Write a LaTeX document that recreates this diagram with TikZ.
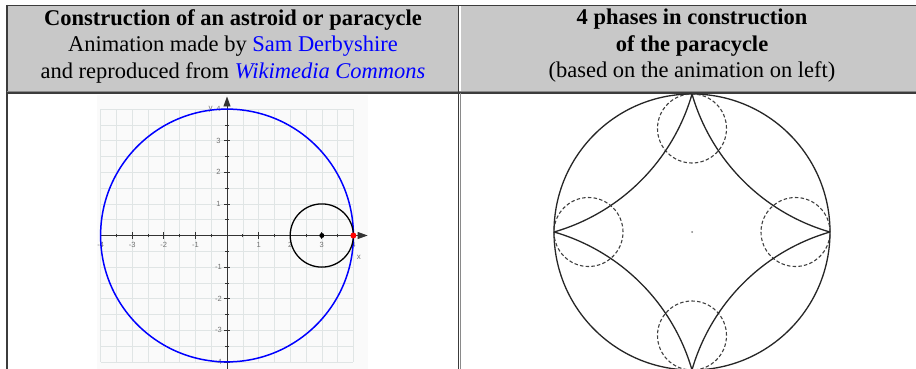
\documentclass[tikz,border=0pt]{standalone}
\usepackage{fontspec}
\setmainfont{Liberation Serif}
\setsansfont{Liberation Sans}
\usetikzlibrary{arrows.meta}

\definecolor{headgray}{HTML}{C8C8C8}
\definecolor{rulegray}{HTML}{8A8A8A}
\definecolor{ruledark}{HTML}{3C3C3C}
\definecolor{plotbg}{HTML}{FAFAFA}
\definecolor{gridgray}{HTML}{E0E5E5}
\definecolor{axisgray}{HTML}{333333}
\definecolor{linkblue}{HTML}{0000FF}

\begin{document}
\begin{tikzpicture}[x=1pt,y=1pt]
\tikzset{
  headtext/.style={align=center,font=\fontsize{22.5}{26.5}\selectfont,inner sep=0pt},
  headcell/.style={fill=headgray},
  darkrule/.style={draw=ruledark,line width=1.4pt},
  lightrule/.style={draw=rulegray,line width=1.4pt},
  gridline/.style={draw=gridgray,line width=0.6pt},
  axisline/.style={draw=axisgray,line width=0.9pt,-{Triangle[length=10pt,width=7pt]}},
  tickmark/.style={draw=axisgray,line width=0.7pt},
  ticklabel/.style={font=\sffamily\fontsize{7.5}{8}\selectfont,text=black!55,inner sep=0pt},
  axislabel/.style={font=\sffamily\fontsize{8}{9}\selectfont,text=black!55,inner sep=0pt},
  bluewheel/.style={draw=blue,line width=1.5pt},
  rollwheel/.style={draw=black,line width=1.3pt},
  bigwheel/.style={draw=black!85,line width=1.3pt},
  smallwheel/.style={draw=black!75,line width=1.1pt,dash pattern=on 3.5pt off 2.2pt},
  cuspcurve/.style={draw=black!85,line width=1.3pt}
}
\useasboundingbox (0,0) rectangle (916,-369);
\fill[white] (0,0) rectangle (916,-369);
\path[headcell] (8,-6) rectangle (458,-91);
\path[headcell] (461,-6) rectangle (916,-91);
\draw[darkrule] (6,-5.5) -- (916,-5.5);
\draw[darkrule] (7,-5) -- (7,-369);
\draw[lightrule] (7,-91.3) -- (916,-91.3);
\draw[darkrule] (7,-93.2) -- (916,-93.2);
\draw[darkrule] (458.4,-5) -- (458.4,-369);
\draw[lightrule] (460.2,-93) -- (460.2,-369);

\node[headtext] (headL) at (233,-46) {\textbf{Construction of an astroid or paracycle}\\
  Animation made by \textcolor{linkblue}{Sam Derbyshire}\\
  and reproduced from \textcolor{linkblue}{\textit{Wikimedia Commons}}};
\node[headtext] (headR) at (692,-46) {\textbf{4 phases in construction}\\
  \textbf{of the paracycle}\\
  (based on the animation on left)};

\fill[plotbg] (97,-95) rectangle (368,-369);
\begin{scope}[shift={(227,-235.5)},x=31.6pt,y=31.6pt]
  \coordinate (O) at (0,0);
  \foreach \g in {-4,-3.5,...,4} {
    \draw[gridline] (\g,-4) -- (\g,4);
    \draw[gridline] (-4,\g) -- (4,\g);
  }
  \coordinate (xs) at (-4,0);
  \coordinate (xe) at (4.45,0);
  \coordinate (ys) at (0,-4.3);
  \coordinate (ye) at (0,4.4);
  \draw[axisline] (xs) -- (xe);
  \draw[axisline] (ys) -- (ye);
  \foreach \t in {-4,-3.5,...,4} {
    \draw[tickmark] (\t,-0.06) -- (\t,0.06);
    \draw[tickmark] (-0.06,\t) -- (0.06,\t);
  }
  \foreach \t [count=\k] in {-4,-3,-2,-1,1,2,3,4} {
    \draw[tickmark] (\t,-0.1) -- (\t,0.1);
    \draw[tickmark] (-0.1,\t) -- (0.1,\t);
    \node[ticklabel] (xt\k) at (\t,-0.3) {\t};
    \node[ticklabel] (yt\k) at (-0.27,\t) {\t};
  }
  \node[axislabel] (xlab) at (4.17,-0.7) {x};
  \node[axislabel] (ylab) at (-0.52,4.0) {y};
  \draw[bluewheel] (O) circle[radius=4];
  \coordinate (C) at (3,0);
  \coordinate (P) at (4,0);
  \draw[rollwheel] (C) circle[radius=1];
  \fill (C) circle[radius=2.5pt];
  \fill[red] (P) circle[radius=3pt];
\end{scope}

\begin{scope}[shift={(692,-232)}]
  \coordinate (M) at (0,0);
  \draw[bigwheel] (M) circle[radius=138];
  \foreach \a in {0,90,180,270} {
    \draw[smallwheel] (\a:103.5) circle[radius=34.5];
    \draw[cuspcurve] (\a+90:138) arc[start angle=\a+196.1,end angle=\a+253.9,radius=202];
  }
  \fill[gray] (M) circle[radius=1];
\end{scope}
\end{tikzpicture}
\end{document}
